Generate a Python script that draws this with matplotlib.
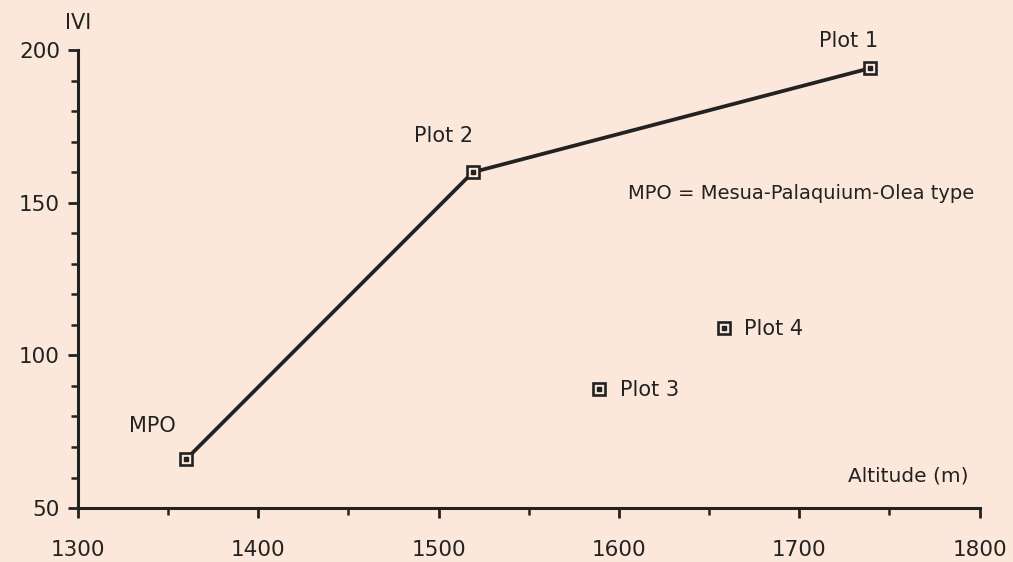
import matplotlib
matplotlib.use("Agg")
import matplotlib.pyplot as plt
from matplotlib.ticker import MultipleLocator

plt.rcParams['font.family'] = ['DejaVu Sans']

# Données
line_labels = ['MPO', 'Plot 2', 'Plot 1']
line_alt = [1360, 1519, 1739]
line_ivi = [66, 160, 194]

pt_labels = ['Plot 3', 'Plot 4']
pt_alt = [1589, 1658]
pt_ivi = [89, 109]

bg = '#fbe8da'
ink = '#222222'

fig = plt.figure(figsize=(10.13, 5.62), dpi=100, facecolor=bg)
ax = fig.add_axes([0.077, 0.096, 0.890, 0.815], facecolor=bg)

ax.plot(line_alt, line_ivi, color=ink, lw=2.7, zorder=2)

all_alt = line_alt + pt_alt
all_ivi = line_ivi + pt_ivi
ax.plot(all_alt, all_ivi, ls='none', marker='s', ms=8.5, mfc=bg, mec=ink, mew=1.9, zorder=3)
ax.plot(all_alt, all_ivi, ls='none', marker='s', ms=2.2, mfc=ink, mec=ink, zorder=4)

# étiquettes des points
ax.annotate(line_labels[0], (line_alt[0], line_ivi[0]), xytext=(-24, 24), textcoords='offset points',
            ha='center', va='center', fontsize=15, color=ink)
ax.annotate(line_labels[1], (line_alt[1], line_ivi[1]), xytext=(-21, 26), textcoords='offset points',
            ha='center', va='center', fontsize=15, color=ink)
ax.annotate(line_labels[2], (line_alt[2], line_ivi[2]), xytext=(-15, 20), textcoords='offset points',
            ha='center', va='center', fontsize=15, color=ink)
for a, v, lab in zip(pt_alt, pt_ivi, pt_labels):
    ax.annotate(lab, (a, v), xytext=(15, -1), textcoords='offset points',
                ha='left', va='center', fontsize=15, color=ink)

ax.text(1605, 153, 'MPO = Mesua-Palaquium-Olea type', fontsize=14, color=ink, ha='left', va='center')
ax.text(1794, 60.5, 'Altitude (m)', fontsize=14.5, color=ink, ha='right', va='center')
ax.text(1300, 205.5, 'IVI', fontsize=15, color=ink, ha='center', va='bottom')

ax.set_xlim(1300, 1800)
ax.set_ylim(50, 200)
ax.xaxis.set_major_locator(MultipleLocator(100))
ax.xaxis.set_minor_locator(MultipleLocator(50))
ax.yaxis.set_major_locator(MultipleLocator(50))
ax.yaxis.set_minor_locator(MultipleLocator(10))

for s in ['top', 'right']:
    ax.spines[s].set_visible(False)
for s in ['left', 'bottom']:
    ax.spines[s].set_linewidth(2.2)
    ax.spines[s].set_color(ink)

ax.tick_params(which='major', direction='out', length=7, width=2, color=ink, labelsize=15.5, labelcolor=ink)
ax.tick_params(which='minor', direction='out', length=5, width=1.8, color=ink)
ax.tick_params(axis='x', which='major', pad=16)
ax.tick_params(axis='y', which='major', pad=6)

for sp in ax.spines.values():
    sp.set_capstyle('projecting')

fig.savefig('out.png', dpi=100, facecolor=bg)
